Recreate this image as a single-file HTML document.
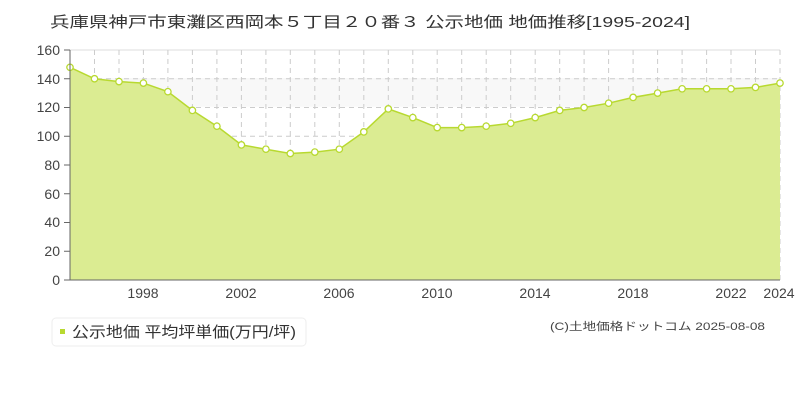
<!DOCTYPE html>
<html><head><meta charset="utf-8"><style>
body{margin:0;background:#fff;}
svg text{font-family:"Liberation Sans","Noto Sans CJK JP",sans-serif;}
</style></head><body>
<svg width="800" height="400" viewBox="0 0 800 400" xmlns="http://www.w3.org/2000/svg">
<text x="50" y="27" font-size="15" fill="#333" textLength="640" lengthAdjust="spacingAndGlyphs">兵庫県神戸市東灘区西岡本５丁目２０番３ 公示地価 地価推移[1995-2024]</text>
<rect x="70" y="78" width="710" height="28.75" fill="#f8f8f8"/>
<g stroke="#ccc" stroke-dasharray="5,4" stroke-width="1">
<line x1="70" y1="50" x2="780" y2="50" stroke-dasharray="none" stroke="#ddd"/>
<line x1="70" y1="78.75" x2="780" y2="78.75"/><line x1="70" y1="107.5" x2="780" y2="107.5"/>
<line x1="70" y1="136.25" x2="780" y2="136.25"/><line x1="70" y1="165" x2="780" y2="165"/>
<line x1="70" y1="193.75" x2="780" y2="193.75"/><line x1="70" y1="222.5" x2="780" y2="222.5"/>
<line x1="70" y1="251.25" x2="780" y2="251.25"/>
<line x1="94.5" y1="50" x2="94.5" y2="280"/><line x1="119" y1="50" x2="119" y2="280"/><line x1="143.4" y1="50" x2="143.4" y2="280"/><line x1="167.9" y1="50" x2="167.9" y2="280"/><line x1="192.4" y1="50" x2="192.4" y2="280"/><line x1="216.9" y1="50" x2="216.9" y2="280"/><line x1="241.4" y1="50" x2="241.4" y2="280"/><line x1="265.9" y1="50" x2="265.9" y2="280"/><line x1="290.3" y1="50" x2="290.3" y2="280"/><line x1="314.8" y1="50" x2="314.8" y2="280"/><line x1="339.3" y1="50" x2="339.3" y2="280"/><line x1="363.8" y1="50" x2="363.8" y2="280"/><line x1="388.3" y1="50" x2="388.3" y2="280"/><line x1="412.8" y1="50" x2="412.8" y2="280"/><line x1="437.2" y1="50" x2="437.2" y2="280"/><line x1="461.7" y1="50" x2="461.7" y2="280"/><line x1="486.2" y1="50" x2="486.2" y2="280"/><line x1="510.7" y1="50" x2="510.7" y2="280"/><line x1="535.2" y1="50" x2="535.2" y2="280"/><line x1="559.7" y1="50" x2="559.7" y2="280"/><line x1="584.1" y1="50" x2="584.1" y2="280"/><line x1="608.6" y1="50" x2="608.6" y2="280"/><line x1="633.1" y1="50" x2="633.1" y2="280"/><line x1="657.6" y1="50" x2="657.6" y2="280"/><line x1="682.1" y1="50" x2="682.1" y2="280"/><line x1="706.6" y1="50" x2="706.6" y2="280"/><line x1="731" y1="50" x2="731" y2="280"/><line x1="755.5" y1="50" x2="755.5" y2="280"/><line x1="780" y1="50" x2="780" y2="280"/>
</g>
<polygon fill="#dbec92" points="70,280 70,67.3 94.5,78.75 119,81.6 143.4,83.1 167.9,91.7 192.4,110.4 216.9,126.2 241.4,144.9 265.9,149.2 290.3,153.5 314.8,152.1 339.3,149.2 363.8,131.9 388.3,108.9 412.8,117.6 437.2,127.6 461.7,127.6 486.2,126.2 510.7,123.3 535.2,117.6 559.7,110.4 584.1,107.5 608.6,103.2 633.1,97.4 657.6,93.1 682.1,88.8 706.6,88.8 731,88.8 755.5,87.4 780,83.1 780,280"/>
<polyline fill="none" stroke="#b8d930" stroke-width="1.5" points="70,67.3 94.5,78.75 119,81.6 143.4,83.1 167.9,91.7 192.4,110.4 216.9,126.2 241.4,144.9 265.9,149.2 290.3,153.5 314.8,152.1 339.3,149.2 363.8,131.9 388.3,108.9 412.8,117.6 437.2,127.6 461.7,127.6 486.2,126.2 510.7,123.3 535.2,117.6 559.7,110.4 584.1,107.5 608.6,103.2 633.1,97.4 657.6,93.1 682.1,88.8 706.6,88.8 731,88.8 755.5,87.4 780,83.1"/>
<g fill="#fff" stroke="#b8d930" stroke-width="1.3">
<circle cx="70" cy="67.3" r="3.2"/><circle cx="94.5" cy="78.75" r="3.2"/><circle cx="119" cy="81.6" r="3.2"/><circle cx="143.4" cy="83.1" r="3.2"/><circle cx="167.9" cy="91.7" r="3.2"/><circle cx="192.4" cy="110.4" r="3.2"/><circle cx="216.9" cy="126.2" r="3.2"/><circle cx="241.4" cy="144.9" r="3.2"/><circle cx="265.9" cy="149.2" r="3.2"/><circle cx="290.3" cy="153.5" r="3.2"/><circle cx="314.8" cy="152.1" r="3.2"/><circle cx="339.3" cy="149.2" r="3.2"/><circle cx="363.8" cy="131.9" r="3.2"/><circle cx="388.3" cy="108.9" r="3.2"/><circle cx="412.8" cy="117.6" r="3.2"/><circle cx="437.2" cy="127.6" r="3.2"/><circle cx="461.7" cy="127.6" r="3.2"/><circle cx="486.2" cy="126.2" r="3.2"/><circle cx="510.7" cy="123.3" r="3.2"/><circle cx="535.2" cy="117.6" r="3.2"/><circle cx="559.7" cy="110.4" r="3.2"/><circle cx="584.1" cy="107.5" r="3.2"/><circle cx="608.6" cy="103.2" r="3.2"/><circle cx="633.1" cy="97.4" r="3.2"/><circle cx="657.6" cy="93.1" r="3.2"/><circle cx="682.1" cy="88.8" r="3.2"/><circle cx="706.6" cy="88.8" r="3.2"/><circle cx="731" cy="88.8" r="3.2"/><circle cx="755.5" cy="87.4" r="3.2"/><circle cx="780" cy="83.1" r="3.2"/>
</g>
<line x1="70" y1="50" x2="70" y2="280" stroke="#666"/>
<line x1="70" y1="280" x2="780" y2="280" stroke="#666"/>
<g stroke="#666"><line x1="64" y1="50" x2="70" y2="50"/><line x1="64" y1="78.75" x2="70" y2="78.75"/><line x1="64" y1="107.5" x2="70" y2="107.5"/><line x1="64" y1="136.25" x2="70" y2="136.25"/><line x1="64" y1="165" x2="70" y2="165"/><line x1="64" y1="193.75" x2="70" y2="193.75"/><line x1="64" y1="222.5" x2="70" y2="222.5"/><line x1="64" y1="251.25" x2="70" y2="251.25"/><line x1="64" y1="280" x2="70" y2="280"/></g>
<g font-size="14" fill="#444" text-anchor="end">
<text x="60" y="55">160</text><text x="60" y="84">140</text><text x="60" y="112">120</text><text x="60" y="141">100</text><text x="60" y="170">80</text><text x="60" y="199">60</text><text x="60" y="227">40</text><text x="60" y="256">20</text><text x="60" y="285">0</text>
</g>
<g font-size="14" fill="#444" text-anchor="middle">
<text x="143" y="298">1998</text><text x="241" y="298">2002</text><text x="339" y="298">2006</text><text x="437" y="298">2010</text><text x="535" y="298">2014</text><text x="633" y="298">2018</text><text x="731" y="298">2022</text><text x="779" y="298">2024</text>
</g>
<rect x="52" y="318" width="254" height="28" rx="4" fill="#fff" stroke="#eee"/>
<rect x="60" y="329" width="5" height="5" fill="#b8d930"/>
<text x="72" y="337" font-size="15" fill="#333" textLength="224" lengthAdjust="spacingAndGlyphs">公示地価 平均坪単価(万円/坪)</text>
<text x="550" y="330" font-size="11" fill="#444" textLength="215" lengthAdjust="spacingAndGlyphs">(C)土地価格ドットコム 2025-08-08</text>
</svg>
</body></html>
